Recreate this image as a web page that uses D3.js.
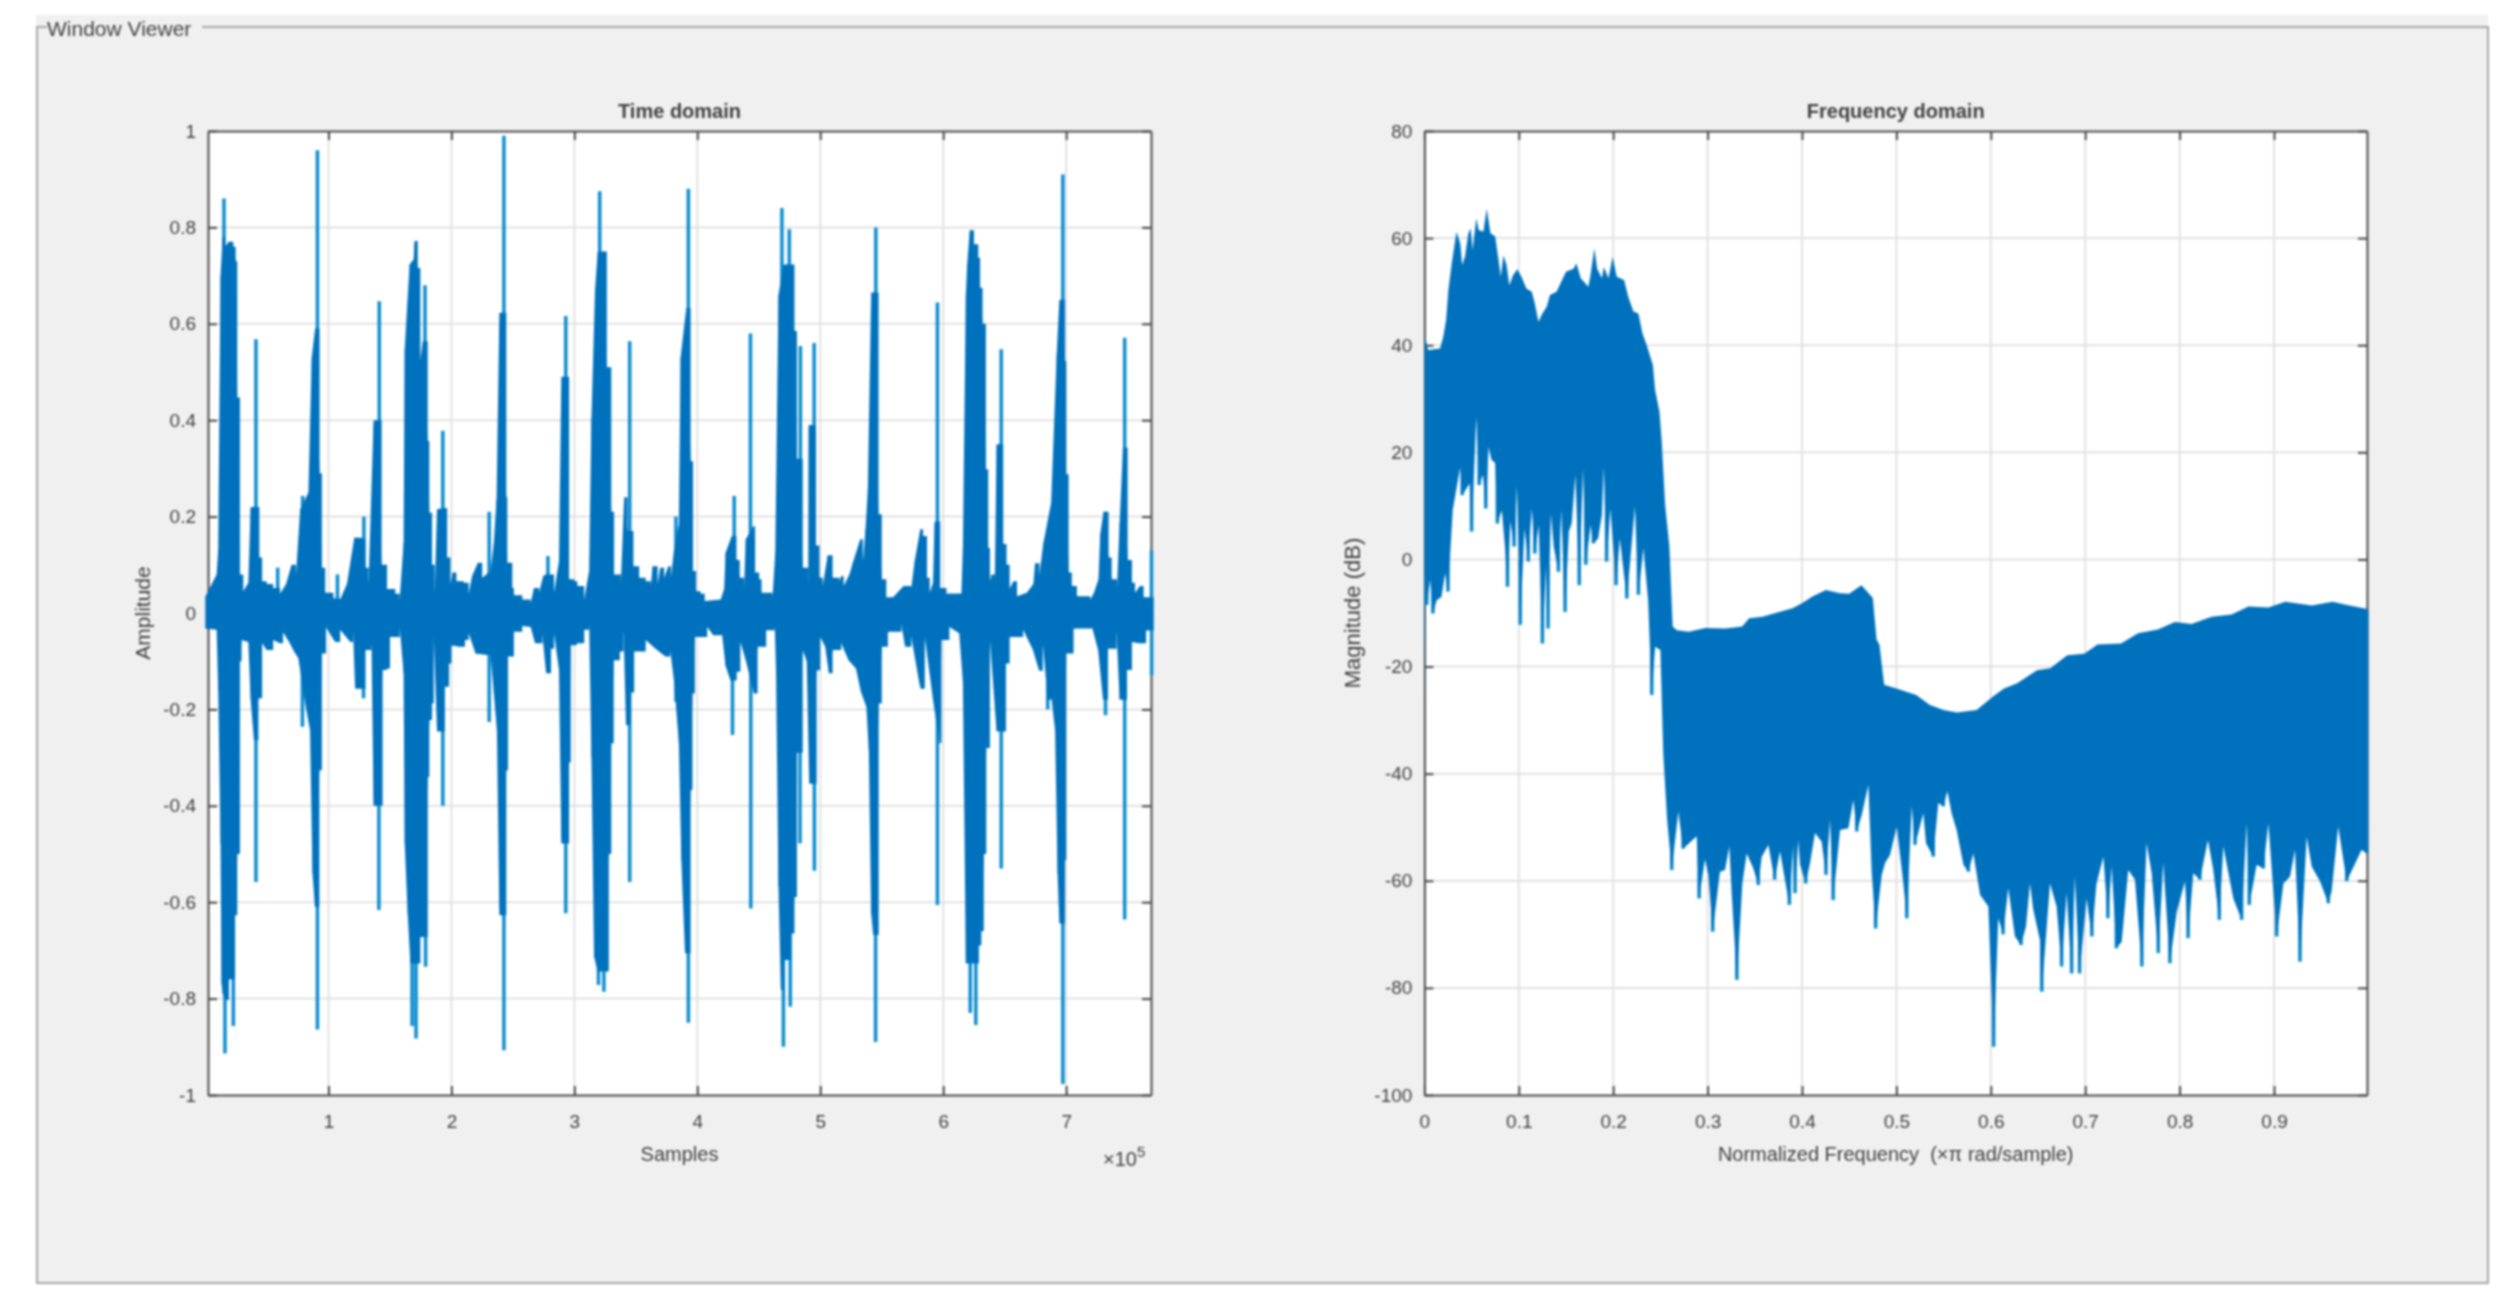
<!DOCTYPE html>
<html><head><meta charset="utf-8"><style>html,body{margin:0;background:#fff}svg{display:block;filter:blur(.85px)}text{font-family:"Liberation Sans",Arial,sans-serif;fill:#404040}</style>
<script src="https://cdn.jsdelivr.net/npm/d3@7"></script></head><body><script>
const panelTitle="Window Viewer";
const timeTitle="Time domain",timeXLabel="Samples",timeYLabel="Amplitude";
const freqTitle="Frequency domain",freqXLabel="Normalized Frequency \u00a0(\u00d7\u03c0 rad/sample)",freqYLabel="Magnitude (dB)";
const timeXTicks=[1,2,3,4,5,6,7];
const timeYTicks=[-1,-0.8,-0.6,-0.4,-0.2,0,0.2,0.4,0.6,0.8,1];
const freqXTicks=[0,0.1,0.2,0.3,0.4,0.5,0.6,0.7,0.8,0.9];
const freqYTicks=[-100,-80,-60,-40,-20,0,20,40,60,80];
const timeTop=[[0,.035],[.09,.08],[.103,.13],[.122,.70],[.139,.78],[.16,.76],[.187,.77],[.226,.76],[.245,.73],[.258,.447],[.28,.08],[.307,.045],[.348,.063],[.367,.22],[.4375,.115],[.46,.066],[.497,.06],[.55,.052],[.606,.04],[.655,.06],[.70,.10],[.735,.077],[.77,.215],[.837,.25],[.864,.53],[.891,.59],[.927,.29],[.946,.094],[.973,.042],[1.04,.03],[1.095,.028],[1.15,.06],[1.21,.156],[1.277,.153],[1.30,.094],[1.326,.063],[1.367,.40],[1.432,.10],[1.476,.05],[1.543,.04],[1.579,.028],[1.611,.146],[1.62,.547],[1.639,.633],[1.66,.723],[1.693,.734],[1.70,.772],[1.726,.716],[1.747,.523],[1.766,.564],[1.807,.357],[1.82,.208],[1.842,.10],[1.864,.042],[1.883,.215],[1.943,.218],[1.965,.115],[1.992,.06],[2.01,.084],[2.04,.066],[2.1,.063],[2.14,.04],[2.168,.077],[2.215,.104],[2.25,.073],[2.318,.087],[2.345,.146],[2.367,.236],[2.39,.623],[2.446,.24],[2.454,.104],[2.495,.052],[2.508,.037],[2.576,.028],[2.644,.02],[2.671,.052],[2.712,.042],[2.747,.077],[2.766,.08],[2.834,.042],[2.875,.108],[2.894,.49],[2.957,.07],[3.0,.066],[3.024,.056],[3.079,.028],[3.12,.087],[3.139,.405],[3.168,.67],[3.19,.75],[3.264,.51],[3.3,.21],[3.323,.08],[3.378,.063],[3.405,.24],[3.432,.17],[3.48,.097],[3.527,.073],[3.58,.066],[3.622,.056],[3.636,.097],[3.677,.06],[3.698,.094],[3.73,.073],[3.764,.097],[3.785,.073],[3.81,.13],[3.85,.184],[3.864,.53],[3.91,.633],[3.945,.315],[3.965,.087],[3.99,.045],[4.027,.04],[4.06,.025],[4.19,.028],[4.218,.05],[4.23,.125],[4.28,.16],[4.318,.11],[4.345,.073],[4.38,.052],[4.394,.153],[4.454,.18],[4.47,.084],[4.503,.07],[4.522,.042],[4.612,.035],[4.634,.125],[4.66,.66],[4.70,.723],[4.79,.585],[4.81,.32],[4.857,.094],[4.903,.066],[4.906,.39],[4.965,.14],[4.993,.073],[5.02,.056],[5.06,.12],[5.1,.073],[5.156,.066],[5.17,.077],[5.19,.056],[5.237,.08],[5.265,.104],[5.325,.153],[5.346,.104],[5.368,.174],[5.387,.256],[5.414,.665],[5.474,.205],[5.50,.07],[5.537,.032],[5.59,.032],[5.678,.056],[5.74,.052],[5.768,.108],[5.814,.174],[5.836,.16],[5.868,.073],[5.89,.042],[5.917,.063],[5.93,.19],[5.975,.052],[6.026,.04],[6.148,.04],[6.16,.135],[6.184,.66],[6.195,.723],[6.216,.794],[6.25,.765],[6.285,.737],[6.30,.675],[6.32,.60],[6.347,.298],[6.366,.135],[6.38,.066],[6.393,.08],[6.42,.07],[6.434,.35],[6.488,.143],[6.515,.10],[6.54,.05],[6.57,.066],[6.6,.035],[6.68,.042],[6.733,.06],[6.747,.103],[6.782,.08],[6.815,.146],[6.878,.229],[6.923,.537],[6.945,.65],[6.99,.523],[7.0,.288],[7.02,.084],[7.046,.056],[7.087,.035],[7.195,.028],[7.223,.04],[7.263,.07],[7.277,.163],[7.304,.21],[7.345,.115],[7.37,.07],[7.413,.05],[7.435,.187],[7.462,.343],[7.50,.11],[7.535,.063],[7.56,.042],[7.6,.056],[7.63,.032],[7.71,.032]];
const timeBottom=[[0,-.032],[.09,-.035],[.103,-.16],[.122,-.478],[.13,-.769],[.139,-.79],[.166,-.803],[.19,-.76],[.24,-.627],[.258,-.50],[.28,-.10],[.293,-.056],[.348,-.06],[.367,-.18],[.394,-.264],[.43,-.177],[.46,-.063],[.497,-.077],[.55,-.056],[.606,-.063],[.63,-.04],[.68,-.06],[.72,-.08],[.755,-.094],[.81,-.188],[.85,-.243],[.87,-.54],[.89,-.61],[.925,-.326],[.946,-.084],[.98,-.03],[1.054,-.06],[1.095,-.035],[1.177,-.06],[1.2,-.04],[1.217,-.157],[1.30,-.077],[1.35,-.067],[1.367,-.40],[1.44,-.118],[1.476,-.115],[1.50,-.05],[1.58,-.032],[1.611,-.125],[1.62,-.478],[1.644,-.623],[1.666,-.727],[1.747,-.672],[1.807,-.34],[1.82,-.222],[1.842,-.188],[1.856,-.046],[1.883,-.246],[1.946,-.153],[1.98,-.105],[2.0,-.067],[2.06,-.07],[2.11,-.056],[2.14,-.042],[2.196,-.084],[2.29,-.087],[2.318,-.087],[2.345,-.167],[2.37,-.243],[2.39,-.627],[2.446,-.326],[2.46,-.09],[2.508,-.039],[2.576,-.027],[2.644,-.029],[2.68,-.063],[2.74,-.046],[2.77,-.125],[2.81,-.074],[2.834,-.042],[2.875,-.118],[2.894,-.478],[2.957,-.31],[2.97,-.067],[3.02,-.063],[3.08,-.035],[3.12,-.025],[3.139,-.30],[3.16,-.713],[3.19,-.744],[3.28,-.50],[3.3,-.27],[3.32,-.098],[3.37,-.08],[3.40,-.039],[3.42,-.233],[3.46,-.165],[3.486,-.08],[3.58,-.056],[3.66,-.074],[3.74,-.09],[3.78,-.08],[3.81,-.14],[3.85,-.27],[3.87,-.513],[3.90,-.706],[3.945,-.367],[3.96,-.167],[3.98,-.05],[4.08,-.029],[4.13,-.046],[4.2,-.042],[4.23,-.11],[4.27,-.14],[4.32,-.122],[4.35,-.06],[4.394,-.098],[4.46,-.167],[4.49,-.07],[4.56,-.036],[4.63,-.029],[4.64,-.119],[4.66,-.568],[4.68,-.782],[4.70,-.72],[4.76,-.665],[4.79,-.589],[4.81,-.29],[4.857,-.077],[4.89,-.10],[4.91,-.354],[4.97,-.119],[5.0,-.05],[5.04,-.07],[5.07,-.125],[5.1,-.077],[5.17,-.063],[5.23,-.098],[5.29,-.115],[5.33,-.163],[5.375,-.195],[5.395,-.285],[5.414,-.623],[5.43,-.668],[5.475,-.188],[5.5,-.07],[5.55,-.039],[5.66,-.025],[5.69,-.07],[5.74,-.05],[5.78,-.108],[5.814,-.157],[5.85,-.05],[5.917,-.18],[5.97,-.27],[5.985,-.056],[6.05,-.029],[6.13,-.042],[6.16,-.143],[6.184,-.727],[6.29,-.69],[6.31,-.66],[6.33,-.50],[6.35,-.28],[6.38,-.056],[6.434,-.246],[6.51,-.105],[6.54,-.05],[6.65,-.035],[6.73,-.077],[6.78,-.12],[6.81,-.063],[6.85,-.18],[6.88,-.177],[6.91,-.243],[6.93,-.54],[6.945,-.644],[6.99,-.513],[7.0,-.084],[7.06,-.032],[7.21,-.029],[7.26,-.077],[7.30,-.18],[7.34,-.074],[7.41,-.042],[7.435,-.18],[7.495,-.118],[7.535,-.06],[7.59,-.063],[7.65,-.036],[7.71,-.036]];
const timeSpikesUp=[[.15,.86],[.41,.568],[.91,.96],[.79,.243],[1.413,.647],[1.288,.2],[1.23,.156],[1.785,.68],[1.93,.378],[2.307,.21],[2.427,.99],[2.93,.616],[3.206,.875],[3.45,.564],[3.826,.2],[2.785,.118],[1.073,.08],[.587,.094],[3.927,.88],[4.3,.243],[4.432,.58],[4.688,.84],[4.748,.796],[4.838,.554],[4.95,.56],[5.452,.80],[5.953,.644],[6.472,.547],[6.973,.91],[7.318,.21],[7.476,.571],[6.853,.17],[7.694,.13]];
const timeSpikesDown=[[.158,-.914],[.226,-.857],[.41,-.558],[.91,-.864],[1.41,-.616],[1.285,-.177],[1.68,-.857],[1.712,-.883],[1.79,-.734],[1.93,-.4],[2.307,-.226],[2.427,-.907],[2.93,-.623],[3.196,-.772],[3.24,-.786],[3.45,-.558],[3.826,-.184],[3.86,-.243],[.788,-.236],[3.927,-.85],[4.286,-.253],[4.435,-.613],[4.70,-.9],[4.756,-.817],[4.835,-.478],[4.952,-.535],[5.45,-.89],[5.953,-.606],[6.22,-.83],[6.265,-.855],[6.472,-.53],[6.973,-.977],[7.32,-.212],[7.476,-.636],[6.85,-.2],[7.695,-.129]];
const freqTop=[[0,38.5],[.0007,41.6],[.004,39.1],[.0166,39.4],[.02,41.6],[.023,44.7],[.0254,50.3],[.029,55.3],[.034,61.2],[.038,59],[.04,55],[.043,56.5],[.0466,60.9],[.049,61.8],[.051,57.8],[.055,63.7],[.0575,61.5],[.0625,61.2],[.066,65.5],[.07,60.9],[.075,60.3],[.078,56.5],[.081,52.8],[.0837,56.8],[.087,55],[.09,51.2],[.094,53.1],[.0985,54.2],[.103,52.7],[.108,50.6],[.1137,50],[.117,47.8],[.1208,44.4],[.125,45.9],[.1296,47.2],[.133,49.4],[.14,50],[.15,53.7],[.158,54.3],[.161,55.3],[.1656,52.5],[.1737,50.9],[.176,53.1],[.18,58.1],[.183,54.3],[.188,52.5],[.19,54.6],[.195,52.5],[.1995,56.5],[.2037,52.8],[.2115,52.2],[.216,49],[.2214,46.3],[.2267,45.9],[.231,42.2],[.2355,40],[.242,36.3],[.2444,31.6],[.249,27.6],[.2514,22],[.255,10.2],[.2595,2.4],[.263,-12.5],[.2673,-13.2],[.28,-13.5],[.2976,-12.8],[.319,-12.9],[.3366,-12.5],[.344,-11],[.358,-10.7],[.372,-10],[.39,-9.1],[.4,-8.2],[.411,-6.9],[.4254,-5.7],[.44,-6.3],[.45,-6.4],[.463,-4.8],[.475,-7.2],[.479,-15],[.482,-15.9],[.487,-23.4],[.5,-24.1],[.521,-25.3],[.5355,-27.2],[.55,-28.1],[.564,-28.6],[.585,-28.1],[.603,-25.5],[.614,-24.1],[.628,-23.1],[.649,-20.7],[.663,-20.3],[.681,-17.9],[.699,-17.6],[.713,-15.9],[.738,-15.7],[.756,-13.8],[.777,-13.1],[.795,-11.7],[.8125,-12.06],[.834,-10.7],[.855,-10.3],[.873,-8.8],[.894,-8.95],[.912,-7.9],[.94,-8.6],[.962,-7.9],[.98,-8.6],[1.0,-9.3]];
const freqBottom=[[0,-26.6],[.0012,-2.3],[.0025,-8.5],[.006,-3.8],[.009,-10.1],[.013,-7.6],[.018,-7],[.022,-2.6],[.025,-6],[.03,9.2],[.038,17.3],[.04,12],[.048,14.2],[.05,5.2],[.055,26.6],[.058,13.9],[.062,15.8],[.065,9.5],[.068,21],[.071,18.6],[.075,18],[.0773,6.7],[.082,9.2],[.0855,2.1],[.088,-5.1],[.091,7.1],[.095,2.4],[.098,13.6],[.1015,-12.2],[.106,5.8],[.11,-.4],[.1137,9.5],[.117,1.1],[.121,6.4],[.125,-15.7],[.129,-.7],[.131,-12.9],[.134,8.6],[.137,2.4],[.142,-2.3],[.145,9.2],[.149,-9.8],[.153,5.2],[.156,6.7],[.16,15.8],[.164,-4.8],[.168,17],[.171,-1],[.176,6.4],[.179,3],[.184,3.9],[.188,8.3],[.19,17.3],[.193,-.4],[.197,9.5],[.203,-4.8],[.207,3.9],[.2144,-7.3],[.217,-2.3],[.223,9.9],[.2267,-6.6],[.232,2.1],[.237,-7.6],[.2408,-25.3],[.2444,-16.3],[.25,-16.9],[.253,-36.2],[.257,-48.3],[.262,-58],[.269,-47.1],[.274,-54],[.2884,-51.7],[.291,-63.3],[.2972,-56],[.3008,-58.9],[.3054,-69.5],[.3131,-58.3],[.3184,-58],[.323,-53.6],[.3255,-62.3],[.331,-78.5],[.3368,-60.5],[.3414,-54.9],[.3485,-57.7],[.3537,-60.8],[.3573,-55.5],[.3644,-53.3],[.371,-59.8],[.3767,-54.5],[.3866,-64.5],[.3908,-53],[.3926,-62.3],[.396,-52.4],[.3979,-57],[.4039,-60.5],[.4085,-56.7],[.4138,-51.1],[.4208,-52.7],[.4254,-58.9],[.4297,-48.6],[.433,-63.6],[.4403,-50.5],[.4491,-50.2],[.4544,-44.9],[.458,-50.8],[.4632,-47.7],[.4703,-42.1],[.4738,-58.3],[.478,-68.9],[.4844,-58.9],[.488,-56.7],[.4932,-55.2],[.5003,-49.9],[.5074,-60.5],[.511,-67],[.5162,-46.1],[.5197,-53.3],[.5285,-47.4],[.5314,-53],[.539,-55.5],[.5444,-45.5],[.5497,-46.1],[.554,-43.3],[.5585,-47.4],[.5638,-50.5],[.571,-57],[.5762,-58.3],[.5815,-54.9],[.5886,-62.6],[.5974,-64.8],[.603,-91],[.6079,-67],[.613,-70],[.6185,-61.4],[.6256,-70.4],[.632,-72],[.6372,-68.6],[.6415,-60.5],[.645,-65.4],[.652,-71],[.654,-80.7],[.6627,-60.5],[.6697,-64.8],[.675,-76],[.6803,-62.3],[.6856,-77.3],[.689,-59.2],[.694,-77.3],[.7015,-63.3],[.707,-70.4],[.712,-60.5],[.7192,-55.5],[.724,-67],[.728,-57.4],[.733,-72.6],[.7386,-71.4],[.7456,-58],[.7527,-59.8],[.76,-76],[.765,-53],[.7704,-58.6],[.7774,-73.5],[.7827,-56.7],[.7897,-75.4],[.797,-65.8],[.8057,-60.1],[.809,-70.7],[.8145,-58.6],[.8215,-59.8],[.83,-52.4],[.8357,-58],[.842,-67.3],[.8463,-53.6],[.8569,-63.3],[.8657,-67.3],[.871,-49.3],[.8738,-64.5],[.8816,-57],[.8887,-57.7],[.894,-49.3],[.9028,-70.4],[.91,-60.5],[.917,-59.2],[.9222,-54.2],[.9275,-75.1],[.9346,-51.8],[.94,-57.4],[.9487,-60.1],[.9575,-64.2],[.961,-62],[.968,-49.9],[.977,-60.1],[.9928,-54.2],[.998,-54.9],[1.0,-54.9]];

const W=2512,H=1306;
const svg=d3.select("body").append("svg").attr("width",W).attr("height",H);
const colors={panel:"#f0f0f0",edge:"#a8a8a8",grid:"#e2e2e2",axis:"#4a4a4a",core:"#0072bd",spike:"#0a8cd0"};
svg.append("rect").attr("x",36).attr("y",15).attr("width",2452).attr("height",1268).attr("fill",colors.panel);
svg.append("path").attr("d","M47,27H37V1283H2488V27H202").attr("fill","none").attr("stroke",colors.edge).attr("stroke-width",2);
svg.append("text").attr("x",47).attr("y",36).attr("font-size",21).text(panelTitle);

function frame(g,x,y,xT,yT,xf,t,xl,yl,yLabelX,ySize){
 const [x0,x1]=x.range(),[y1,y0]=y.range();
 g.append("rect").attr("x",x0).attr("y",y0).attr("width",x1-x0).attr("height",y1-y0).attr("fill","#fff");
 const gr=g.append("g").attr("stroke",colors.grid).attr("stroke-width",2);
 gr.selectAll("v").data(xT.filter(d=>x(d)>x0+1)).join("line").attr("x1",d=>x(d)).attr("x2",d=>x(d)).attr("y1",y0).attr("y2",y1);
 gr.selectAll("h").data(yT.filter(d=>y(d)>y0+1&&y(d)<y1-1)).join("line").attr("y1",d=>y(d)).attr("y2",d=>y(d)).attr("x1",x0).attr("x2",x1);
 const ax=(a,tr,lab)=>{const s=g.append("g").attr("transform",tr).call(a);
  s.selectAll("path").attr("stroke",colors.axis).attr("stroke-width",2);
  s.selectAll("line").attr("stroke",colors.axis).attr("stroke-width",2);
  s.selectAll("text").style("font-size","19px").style("font-family",'"Liberation Sans",Arial,sans-serif').attr("fill","#404040");
  if(!lab)s.selectAll("text").remove();return s;};
 ax(d3.axisBottom(x).tickValues(xT).tickFormat(xf).tickSizeInner(-9).tickSizeOuter(0).tickPadding(20),`translate(0,${y1})`,true);
 ax(d3.axisTop(x).tickValues(xT).tickSizeInner(-9).tickSizeOuter(0),`translate(0,${y0})`,false);
 ax(d3.axisLeft(y).tickValues(yT).tickFormat(d=>String(d)).tickSizeInner(-9).tickSizeOuter(0).tickPadding(12),`translate(${x0},0)`,true);
 ax(d3.axisRight(y).tickValues(yT).tickSizeInner(-9).tickSizeOuter(0),`translate(${x1},0)`,false);
 g.append("text").attr("x",(x0+x1)/2).attr("y",118).attr("text-anchor","middle").attr("font-size",20).attr("font-weight","bold").attr("fill","#262626").text(t);
 g.append("text").attr("x",(x0+x1)/2).attr("y",1161).attr("text-anchor","middle").attr("font-size",20).text(xl);
 g.append("text").attr("transform",`translate(${yLabelX},${(y0+y1)/2}) rotate(-90)`).attr("text-anchor","middle").attr("font-size",ySize).text(yl);
}
// time domain
const tx=d3.scaleLinear().domain([0.02,7.69]).range([208,1151]);
const ty=d3.scaleLinear().domain([-1,1]).range([1095,131]);
const tg=svg.append("g");
frame(tg,tx,ty,timeXTicks,timeYTicks,d=>String(d),timeTitle,timeXLabel,timeYLabel,150,21);
tg.append("g").attr("stroke",colors.spike).attr("stroke-width",3.5).selectAll("line").data(timeSpikesUp.concat(timeSpikesDown)).join("line")
 .attr("x1",d=>tx(d[0])).attr("x2",d=>tx(d[0])).attr("y1",ty(0)).attr("y2",d=>ty(d[1]));
for(const c of [d3.curveStepAfter,d3.curveLinear]){
 const a=d3.area().curve(c).x(d=>tx(d[0])).y0(ty(0)).y1(d=>ty(d[1]));
 tg.append("path").attr("d",a(timeTop)).attr("fill",colors.core);
 tg.append("path").attr("d",a(timeBottom)).attr("fill",colors.core);
}
const ex=tg.append("text").attr("x",1103).attr("y",1166).attr("font-size",20);
ex.append("tspan").text("\u00d710");
ex.append("tspan").attr("dy",-9).attr("font-size",15).text("5");
// frequency domain
const fx=d3.scaleLinear().domain([0,0.9985]).range([1424.4,2367]);
const fy=d3.scaleLinear().domain([-100,80]).range([1095,131]);
const fg=svg.append("g");
frame(fg,fx,fy,freqXTicks,freqYTicks,d=>String(d),freqTitle,freqXLabel,freqYLabel,1360,22);
const deep=freqBottom.filter((d,i,a)=>i>0&&i<a.length-1&&d[1]<a[i-1][1]&&d[1]<a[i+1][1]);
fg.append("g").attr("stroke",colors.spike).attr("stroke-width",3.5).selectAll("line").data(deep).join("line")
 .attr("x1",d=>fx(d[0])).attr("x2",d=>fx(d[0])).attr("y1",d=>fy(d[1]+12)).attr("y2",d=>fy(d[1]));
const edge=d3.line().x(d=>fx(d[0])).y(d=>fy(d[1]));
fg.append("path").attr("d",edge(freqTop)+"L"+edge(freqBottom.slice().reverse()).slice(1)+"Z").attr("fill",colors.core);
</script></body></html>
